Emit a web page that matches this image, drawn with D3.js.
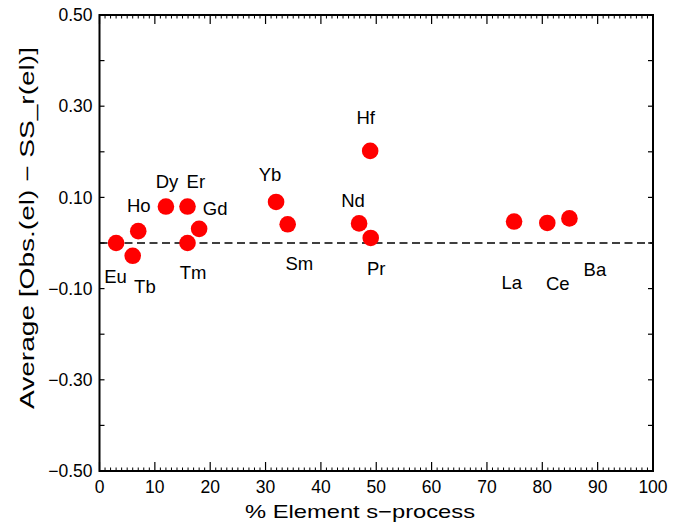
<!DOCTYPE html>
<html><head><meta charset="utf-8">
<script src="https://cdn.jsdelivr.net/npm/d3@7"></script>
<style>
html,body{margin:0;padding:0;background:#fff;}
svg{display:block;font-family:"Liberation Sans",Arial,Helvetica,sans-serif;}
</style></head>
<body><svg id="chart" width="688" height="527"></svg>
<script>
// Data
const elements = ["Eu","Tb","Ho","Dy","Er","Tm","Gd","Yb","Sm","Nd","Pr","Hf","La","Ce","Ba"];
const sProcess = [3.0, 6.0, 7.0, 12.0, 15.9, 15.9, 18.0, 31.9, 34.0, 46.9, 49.0, 48.9, 74.9, 80.9, 84.9];
const avgDiff  = [0.000, -0.028, 0.026, 0.080, 0.080, 0.000, 0.031, 0.090, 0.041, 0.043, 0.011, 0.202, 0.047, 0.044, 0.054];
// Label anchor positions (data coordinates)
const labelX = [2.9, 8.2, 7.1, 12.2, 17.4, 16.9, 20.9, 30.8, 36.1, 45.8, 50.0, 48.1, 74.5, 82.8, 89.5];
const labelY = [-0.088, -0.110, 0.068, 0.120, 0.120, -0.079, 0.061, 0.136, -0.059, 0.080, -0.070, 0.261, -0.100, -0.103, -0.072];
const xTicks = [0,10,20,30,40,50,60,70,80,90,100];
const yTicks = [0.5,0.4,0.3,0.2,0.1,0,-0.1,-0.2,-0.3,-0.4,-0.5];
const yTickLabels = [0.5,0.3,0.1,-0.1,-0.3,-0.5];

const svg = d3.select("#chart");
const L = 99.5, R = 653, T = 15, B = 471;
const x = d3.scaleLinear().domain([0,100]).range([L,R]);
const y = d3.scaleLinear().domain([-0.5,0.5]).range([B,T]);
const minus = s => s.replace("-", "\u2212");

// zero dashed line
svg.append("line").attr("x1",x(0)).attr("x2",x(100)).attr("y1",y(0)).attr("y2",y(0))
  .attr("stroke","#000").attr("stroke-width",1.6).attr("stroke-dasharray","8,4.5");

// ticks
const minorX = d3.range(0,101,1).filter(v=>v%10!==0);
const g = svg.append("g").attr("stroke","#000").attr("stroke-width",1);
minorX.forEach(v=>{
  g.append("line").attr("x1",x(v)).attr("x2",x(v)).attr("y1",B).attr("y2",B-3.5);
  g.append("line").attr("x1",x(v)).attr("x2",x(v)).attr("y1",T).attr("y2",T+3.5);
});
xTicks.forEach(v=>{
  g.append("line").attr("x1",x(v)).attr("x2",x(v)).attr("y1",B).attr("y2",B-9).attr("stroke-width",1.2);
  g.append("line").attr("x1",x(v)).attr("x2",x(v)).attr("y1",T).attr("y2",T+9).attr("stroke-width",1.2);
});
yTicks.forEach(v=>{
  g.append("line").attr("x1",L).attr("x2",L+5).attr("y1",y(v)).attr("y2",y(v)).attr("stroke-width",1.2);
  g.append("line").attr("x1",R).attr("x2",R-5).attr("y1",y(v)).attr("y2",y(v)).attr("stroke-width",1.2);
});

// frame
svg.append("rect").attr("x",L).attr("y",T).attr("width",R-L).attr("height",B-T)
  .attr("fill","none").attr("stroke","#000").attr("stroke-width",2);

// tick labels
svg.append("g").selectAll("text").data(xTicks).join("text")
  .attr("x",d=>x(d)).attr("y",B+21.5).attr("text-anchor","middle")
  .attr("font-size",17.5).text(d=>d);
svg.append("g").selectAll("text").data(yTickLabels).join("text")
  .attr("x",L-7).attr("y",d=>y(d)+6.2).attr("text-anchor","end")
  .attr("font-size",17.5).text(d=>minus(d3.format(".2f")(d)));

// points
svg.append("g").selectAll("circle").data(elements).join("circle")
  .attr("cx",(d,i)=>x(sProcess[i])).attr("cy",(d,i)=>y(avgDiff[i]))
  .attr("r",8.3).attr("fill","#ff0000");

// element labels
svg.append("g").selectAll("text").data(elements).join("text")
  .attr("x",(d,i)=>x(labelX[i])).attr("y",(d,i)=>y(labelY[i]))
  .attr("text-anchor","middle").attr("font-size",18.5).text(d=>d);

// axis titles
svg.append("text").attr("x",360).attr("y",518).attr("text-anchor","middle")
  .attr("font-size",18.6).attr("textLength",230).attr("lengthAdjust","spacingAndGlyphs")
  .text("% Element s\u2212process");
svg.append("text").attr("transform",`translate(33.5,228) rotate(-90)`)
  .attr("text-anchor","middle").attr("font-size",20)
  .attr("textLength",362).attr("lengthAdjust","spacingAndGlyphs")
  .text("Average [Obs.(el) \u2212 SS_r(el)]");
</script></body></html>
